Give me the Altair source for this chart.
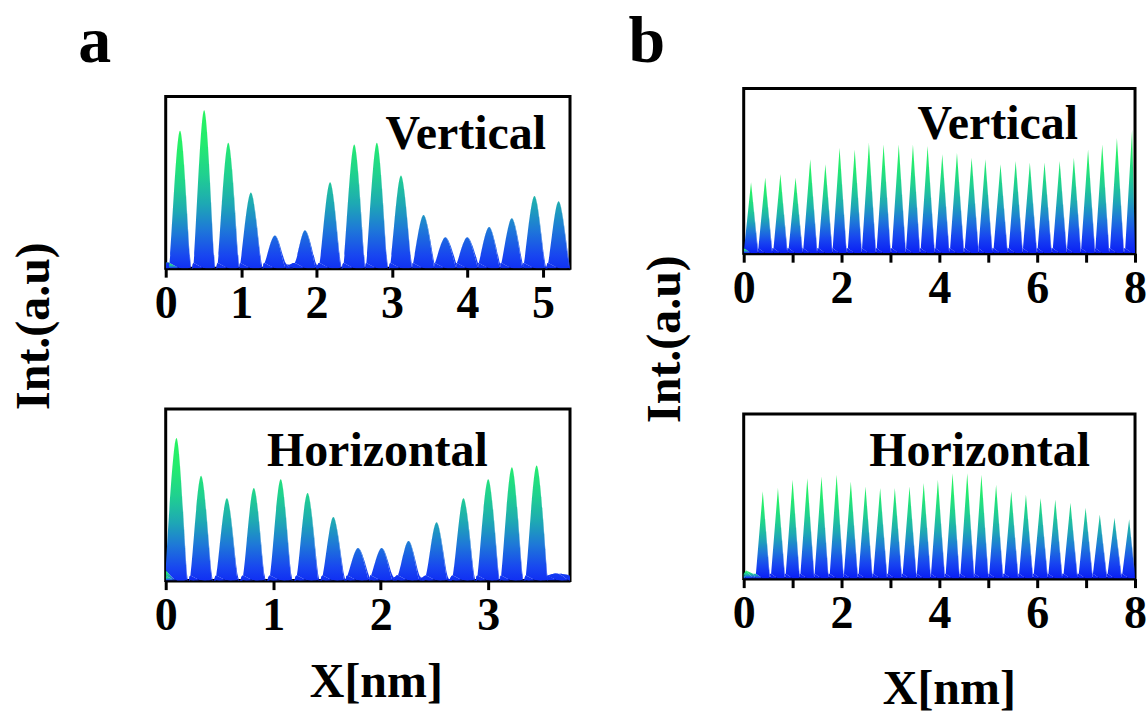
import altair as alt
import pandas as pd

# ---------------- data ----------------
# panel a, "Vertical": peak positions (nm) and peak heights (frame top = 1)
a_ver_x = [0.19, 0.51, 0.83, 1.13, 1.45, 1.85, 2.18, 2.50, 2.80, 3.12, 3.42, 3.71, 4.00, 4.29, 4.59, 4.89, 5.21]
a_ver_h = [0.80, 0.92, 0.73, 0.44, 0.19, 0.22, 0.50, 0.72, 0.73, 0.54, 0.31, 0.18, 0.18, 0.24, 0.29, 0.42, 0.39]

# panel a, "Horizontal"
a_hor_x = [0.10, 0.33, 0.57, 0.82, 1.07, 1.32, 1.56, 1.79, 2.01, 2.26, 2.52, 2.77, 3.00, 3.22, 3.45, 3.65]
a_hor_h = [0.83, 0.61, 0.48, 0.54, 0.59, 0.51, 0.37, 0.19, 0.19, 0.23, 0.34, 0.48, 0.59, 0.66, 0.67, 0.04]

# panel b, "Vertical"
b_ver_x = [0.15, 0.44, 0.75, 1.06, 1.36, 1.67, 1.96, 2.27, 2.56, 2.86, 3.17, 3.46, 3.76, 4.06,
           4.36, 4.66, 4.94, 5.25, 5.56, 5.85, 6.15, 6.46, 6.75, 7.04, 7.33, 7.63, 7.94]
b_ver_h = [0.43, 0.46, 0.48, 0.46, 0.57, 0.54, 0.64, 0.63, 0.67, 0.66, 0.66, 0.66, 0.65, 0.60,
           0.61, 0.58, 0.57, 0.54, 0.56, 0.55, 0.55, 0.56, 0.58, 0.63, 0.66, 0.70, 0.75]

# panel b, "Horizontal"
b_hor_x = [0.05, 0.39, 0.70, 1.00, 1.30, 1.59, 1.90, 2.19, 2.49, 2.79, 3.09, 3.39, 3.68, 3.97,
           4.27, 4.57, 4.86, 5.16, 5.47, 5.77, 6.07, 6.37, 6.68, 6.99, 7.28, 7.58, 7.88]
b_hor_h = [0.05, 0.53, 0.55, 0.60, 0.61, 0.62, 0.63, 0.59, 0.56, 0.55, 0.55, 0.56, 0.58, 0.60,
           0.64, 0.64, 0.63, 0.57, 0.53, 0.51, 0.49, 0.48, 0.46, 0.43, 0.39, 0.37, 0.36]

# axis ranges and ticks
a_ver_max, a_ver_ticks = 5.36, [0, 1, 2, 3, 4, 5]
a_hor_max, a_hor_ticks = 3.76, [0, 1, 2, 3]
b_max, b_ticks = 8, [0, 1, 2, 3, 4, 5, 6, 7, 8]

# baseline level between peaks and half base-width of peaks (nm)
floor_level = 0.03
half_width_a_ver = 0.14
half_width_a_hor = 0.10
half_width_b = 0.14

FONT = "Liberation Serif"

grad = alt.Gradient(
    gradient="linear",
    stops=[
        alt.GradientStop(color="#0a1ef5", offset=0),
        alt.GradientStop(color="#1846f0", offset=0.15),
        alt.GradientStop(color="#1e78d8", offset=0.3),
        alt.GradientStop(color="#1ea8b4", offset=0.45),
        alt.GradientStop(color="#20d090", offset=0.62),
        alt.GradientStop(color="#24ea70", offset=0.8),
        alt.GradientStop(color="#28f460", offset=1),
    ],
    x1=1, x2=1, y1=1, y2=0,
)


def profile(xs, hs, hw, xmax):
    rows = [(0.0, floor_level)]
    for x, h in zip(xs, hs):
        rows += [(x - hw, floor_level), (x, h), (x + hw, floor_level)]
    rows.append((xmax, floor_level))
    return pd.DataFrame({"x": [r[0] for r in rows], "y": [r[1] for r in rows], "i": list(range(len(rows)))})


def text_layer(txt, x, y, size=48, align="center", baseline="alphabetic", angle=0):
    return alt.Chart(pd.DataFrame({"t": [txt]})).mark_text(
        font=FONT, fontWeight="bold", fontSize=size, color="black",
        align=align, baseline=baseline, angle=angle,
    ).encode(text="t:N", x=alt.value(x), y=alt.value(y))


def panel(xs, hs, hw, xmax, ticks, every2, w, h, texts, interp):
    df = profile(xs, hs, hw, xmax)
    label_expr = "datum.value % 2 === 0 ? datum.label : ''" if every2 else "datum.label"
    area = alt.Chart(df).mark_area(color=grad, clip=True, interpolate=interp).encode(
        x=alt.X("x:Q", scale=alt.Scale(domain=[0, xmax], nice=False, zero=False),
                axis=alt.Axis(values=ticks, labelExpr=label_expr, title=None)),
        y=alt.Y("y:Q", scale=alt.Scale(domain=[0, 1], nice=False), axis=None),
        order=alt.Order("i:Q"),
    )
    return alt.layer(area, *texts).properties(width=w, height=h)


a_top = panel(a_ver_x, a_ver_h, half_width_a_ver, a_ver_max, a_ver_ticks, False, 405, 172, [
    text_layer("Vertical", 381, 53, align="right"),
    text_layer("a", -71, -35, size=66),
    text_layer("Int.(a.u)", -131, 230, align="center", baseline="middle", angle=270),
], "cardinal")
a_bot = panel(a_hor_x, a_hor_h, half_width_a_hor, a_hor_max, a_hor_ticks, False, 405, 172, [
    text_layer("Horizontal", 212, 57),
    text_layer("X[nm]", 211, 289),
], "cardinal")
b_top = panel(b_ver_x, b_ver_h, half_width_b, b_max, b_ticks, True, 392, 165, [
    text_layer("Vertical", 335, 51, align="right"),
    text_layer("b", -97, -27, size=66),
    text_layer("Int.(a.u)", -78, 251, align="center", baseline="middle", angle=270),
], "linear")
b_bot = panel(b_hor_x, b_hor_h, half_width_b, b_max, b_ticks, True, 392, 165, [
    text_layer("Horizontal", 347, 52, align="right"),
    text_layer("X[nm]", 206, 291),
], "linear")

# empty spacer that lowers column a by a few pixels relative to column b
spacer = alt.Chart(pd.DataFrame({"v": [0]})).mark_point(opacity=0).encode(
    x=alt.value(0), y=alt.value(0)
).properties(width=1, height=1, view=alt.ViewBackground(strokeOpacity=0, strokeWidth=0))

colA = alt.vconcat(spacer, alt.vconcat(a_top, a_bot, spacing=141, bounds="flush"), spacing=7, bounds="flush")
colB = alt.vconcat(b_top, b_bot, spacing=161, bounds="flush")

chart = alt.concat(colA, colB, columns=2, spacing=55, align="none").properties(
    padding={"left": 9, "top": 6, "right": 0, "bottom": 0}
).configure_view(
    stroke="black", strokeWidth=3
).configure_axis(
    domainColor="black", domainWidth=3, tickColor="black", tickWidth=3, tickSize=9,
    labelFont=FONT, labelFontWeight="bold", labelFontSize=46, labelColor="black",
    labelPadding=4, grid=False, labelFlush=False, labelOverlap=False,
)

chart.save("out.html", embed_options={"renderer": "svg", "actions": False})
